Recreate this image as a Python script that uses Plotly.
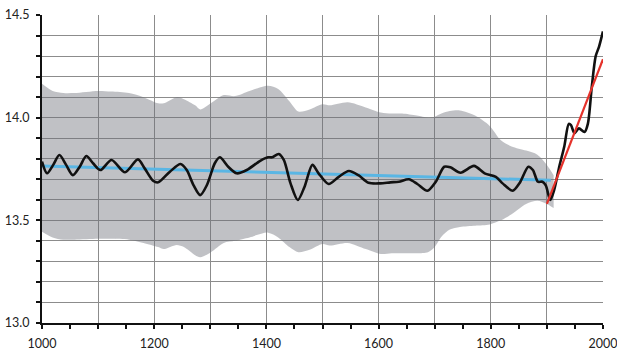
import plotly.graph_objects as go

# Gray uncertainty band
band_years = [1000, 1019, 1038, 1058, 1100, 1123, 1155, 1181, 1207, 1217, 1240, 1253, 1273, 1282, 1301,
              1324, 1344, 1370, 1403, 1421, 1441, 1457, 1477, 1500, 1513, 1545, 1577, 1604, 1623, 1642,
              1668, 1688, 1700, 1712, 1727, 1745, 1772, 1798, 1818, 1837, 1863, 1883, 1900, 1912]
band_upper = [14.165, 14.13, 14.12, 14.12, 14.13, 14.127, 14.12, 14.10, 14.07, 14.07, 14.10, 14.09, 14.06, 14.04, 14.07,
              14.11, 14.105, 14.13, 14.155, 14.14, 14.08, 14.03, 14.04, 14.065, 14.06, 14.075, 14.05, 14.025, 14.02, 14.02,
              14.01, 14.0, 14.005, 14.02, 14.032, 14.035, 14.01, 13.96, 13.89, 13.86, 13.84, 13.82, 13.77, 13.72]
band_lower = [13.445, 13.417, 13.406, 13.406, 13.41, 13.41, 13.406, 13.39, 13.37, 13.36, 13.38, 13.37, 13.33, 13.32, 13.345,
              13.39, 13.40, 13.417, 13.44, 13.417, 13.37, 13.345, 13.357, 13.385, 13.377, 13.39, 13.36, 13.336, 13.34, 13.34,
              13.34, 13.345, 13.37, 13.42, 13.455, 13.468, 13.474, 13.48, 13.50, 13.53, 13.58, 13.595, 13.58, 13.56]

# Black reconstruction curve
rec_years = [1000, 1009, 1020, 1031, 1043, 1055, 1067, 1079, 1091, 1104, 1124, 1148, 1171, 1183, 1198,
             1207, 1228, 1247, 1258, 1270, 1282, 1294, 1308, 1317, 1332, 1347, 1365, 1389, 1403, 1410,
             1422, 1431, 1443, 1456, 1468, 1482, 1493, 1511, 1529, 1547, 1564, 1582, 1603, 1621, 1636,
             1654, 1669, 1687, 1702, 1717, 1728, 1746, 1770, 1789, 1809, 1821, 1839, 1851, 1867, 1875,
             1884, 1892, 1898, 1906, 1913, 1922, 1931, 1939, 1943, 1949, 1957, 1967, 1973, 1980, 1987,
             1993, 2000]
rec_temp = [13.786, 13.729, 13.77, 13.818, 13.77, 13.72, 13.76, 13.813, 13.778, 13.745, 13.794, 13.734, 13.797, 13.753, 13.693,
            13.685, 13.737, 13.774, 13.745, 13.672, 13.623, 13.672, 13.778, 13.807, 13.761, 13.729, 13.745, 13.79, 13.807, 13.807,
            13.823, 13.794, 13.68, 13.599, 13.664, 13.77, 13.729, 13.677, 13.712, 13.74, 13.72, 13.683, 13.68, 13.685, 13.688,
            13.70, 13.677, 13.644, 13.688, 13.761, 13.758, 13.732, 13.765, 13.729, 13.712, 13.68, 13.644, 13.68, 13.761, 13.745,
            13.688, 13.688, 13.67, 13.599, 13.648, 13.761, 13.86, 13.97, 13.964, 13.924, 13.948, 13.93, 13.97, 14.15, 14.30,
            14.346, 14.42]

# Blue pre-industrial trend
blue_years = [1000, 1907]
blue_temp = [13.765, 13.695]

# Red modern trend
red_years = [1900, 2000]
red_temp = [13.58, 14.285]

x_tickvals = [1000, 1100, 1200, 1300, 1400, 1500, 1600, 1700, 1800, 1900, 2000]
x_ticktext = ["1000", "", "1200", "", "1400", "", "1600", "", "1800", "", "2000"]
y_tickvals = [13.0, 13.5, 14.0, 14.5]
y_ticktext = ["13.0", "13.5", "14.0", "14.5"]

fig = go.Figure()
fig.add_trace(go.Scatter(x=band_years, y=band_lower, mode="lines", line=dict(width=0, shape="spline", smoothing=0.8),
                         hoverinfo="skip", showlegend=False))
fig.add_trace(go.Scatter(x=band_years, y=band_upper, mode="lines", line=dict(width=0, shape="spline", smoothing=0.8),
                         fill="tonexty", fillcolor="rgba(110,112,120,0.43)", hoverinfo="skip", showlegend=False))
fig.add_trace(go.Scatter(x=blue_years, y=blue_temp, mode="lines", line=dict(color="#5ab6e4", width=3), showlegend=False))
fig.add_trace(go.Scatter(x=rec_years, y=rec_temp, mode="lines", line=dict(color="#111111", width=2.6, shape="spline", smoothing=0.8),
                         showlegend=False))
fig.add_trace(go.Scatter(x=red_years, y=red_temp, mode="lines", line=dict(color="#e5322b", width=2.2), showlegend=False))

grid = "#8c8c8c"
fig.update_layout(
    width=617, height=351,
    margin=dict(l=42, r=14, t=15, b=28),
    paper_bgcolor="white", plot_bgcolor="white",
    font=dict(family="Lato, 'Open Sans', sans-serif", size=12.5, color="#222222"),
    xaxis=dict(range=[1000, 2000], tickmode="array", tickvals=x_tickvals, ticktext=x_ticktext,
               automargin=False, ticklabeloverflow="allow",
               showgrid=True, gridcolor=grid, gridwidth=1, zeroline=False,
               showline=True, linecolor="#111111", linewidth=2,
               ticks="outside", ticklen=4, tickcolor="#111111", tickwidth=1.5,
               ticklabelstandoff=4,
               minor=dict(dtick=50, tick0=1000, ticks="outside", ticklen=4, tickcolor="#111111", tickwidth=1.5, showgrid=False)),
    yaxis=dict(range=[13.0, 14.5], tickmode="array", tickvals=y_tickvals, ticktext=y_ticktext,
               automargin=False, ticklabeloverflow="allow",
               showgrid=True, gridcolor=grid, gridwidth=1, zeroline=False,
               showline=True, linecolor="#111111", linewidth=2,
               ticks="outside", ticklen=4, tickcolor="#111111", tickwidth=1.5,
               ticklabelstandoff=4,
               minor=dict(dtick=0.1, tick0=13.0, ticks="outside", ticklen=4, tickcolor="#111111", tickwidth=1.5,
                          showgrid=True, gridcolor=grid, gridwidth=1)),
)

fig.write_html("out.html", config={"displayModeBar": False},
               post_script="document.body.style.margin='0';document.body.style.overflow='hidden';")
